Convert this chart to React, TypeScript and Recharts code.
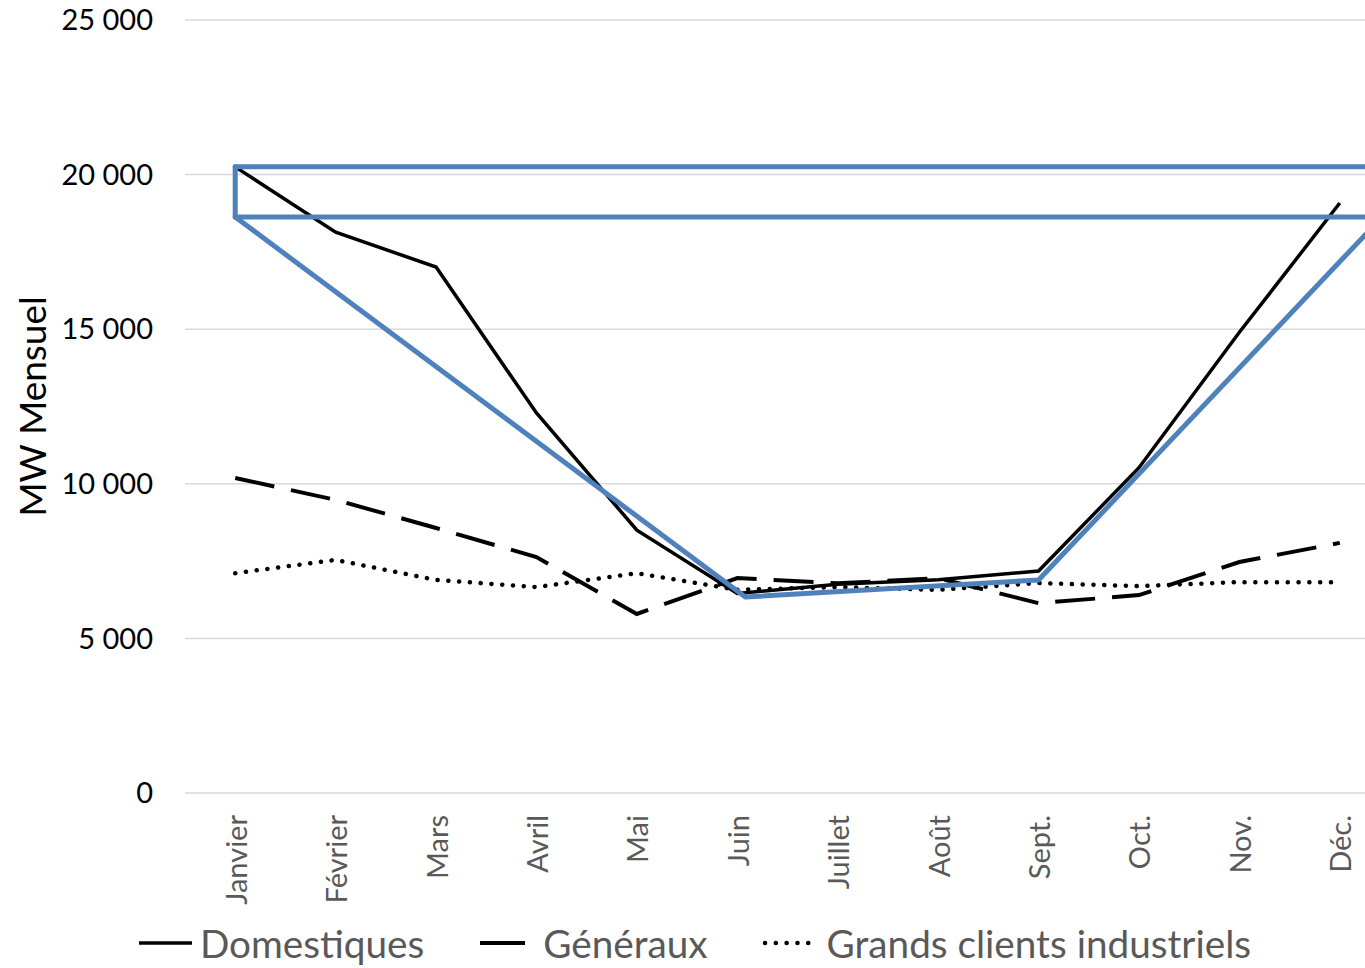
import { CartesianGrid, Legend, Line, LineChart, ReferenceLine, XAxis, YAxis } from 'recharts';

const months = ['Janvier', 'Février', 'Mars', 'Avril', 'Mai', 'Juin', 'Juillet', 'Août', 'Sept.', 'Oct.', 'Nov.', 'Déc.'];
const domestiques = [20250, 18140, 17010, 12290, 8500, 6450, 6750, 6900, 7180, 10520, 14900, 19080];
const generaux = [10190, 9480, 8570, 7630, 5790, 6950, 6780, 6950, 6140, 6400, 7470, 8090];
const grandsClients = [7110, 7540, 6890, 6660, 7110, 6570, 6660, 6570, 6790, 6690, 6820, 6820];

// blue overlay drawn on top of the chart (frame + V-shaped trend)
const trendX = [0, 5.08, 8, 11.5];
const trendValues = [18630, 6340, 6890, 18900];
const frameTop = 20250;
const frameBottom = 18630;

const yTicks = [0, 5000, 10000, 15000, 20000, 25000];

const data = months.map((m, i) => ({
  x: i,
  month: m,
  dom: domestiques[i],
  gen: generaux[i],
  gci: grandsClients[i],
}));
const trend = trendX.map((x, i) => ({ x, v: trendValues[i] }));

const BLUE = '#4f81bd';
const FONT = 'Lato, "Open Sans", sans-serif';

const fmt = (v: number) => String(v).replace(/\B(?=(\d{3})+(?!\d))/g, ' ');

const MonthTick = ({ x, y, payload }: any) => (
  <g transform={`translate(${x},${y + 22}) rotate(-90)`}>
    <text x={0} y={0} textAnchor='end' dominantBaseline='central' fill='#595959' fontSize={29} fontFamily={FONT}>
      {months[payload.value]}
    </text>
  </g>
);

// icon box width, line start/end inside it, gap before the item
const legendItems = [
  { name: 'Domestiques', dash: undefined as string | undefined, cap: 'butt', w: 3.5, box: 61, x1: 0, x2: 53, gap: 0 },
  { name: 'Généraux', dash: undefined, cap: 'butt', w: 4, box: 71, x1: 8, x2: 53, gap: 48 },
  { name: 'Grands clients industriels', dash: '0.1 10.7', cap: 'round', w: 4.5, box: 67, x1: 5, x2: 55, gap: 52 },
];

const renderLegend = () => (
  <div style={{ display: 'flex', justifyContent: 'center', alignItems: 'center', fontFamily: FONT, fontSize: 38.7, color: '#595959', height: 50, whiteSpace: 'nowrap' }}>
    {legendItems.map((it) => (
      <div key={it.name} style={{ display: 'flex', alignItems: 'center', marginLeft: it.gap }}>
        <svg width={it.box} height={20}>
          <line x1={it.x1} x2={it.x2} y1={10} y2={10} stroke='#000' strokeWidth={it.w} strokeDasharray={it.dash} strokeLinecap={it.cap as any} />
        </svg>
        <span>{it.name}</span>
      </div>
    ))}
  </div>
);

export default function App() {
  return (
    <div style={{ position: 'absolute', left: 0, top: 0, width: 1365, height: 968, overflow: 'hidden', background: '#fff' }}>
      <LineChart width={1390} height={968} data={data} margin={{ top: 20, right: 0, bottom: 0, left: 0 }} style={{ fontFamily: FONT }}>
        <CartesianGrid horizontal vertical={false} stroke='#d9d9d9' strokeWidth={1.5} />
        <XAxis
          type='number'
          dataKey='x'
          domain={[-0.5, 11.5]}
          ticks={months.map((_, i) => i)}
          interval={0}
          allowDataOverflow
          axisLine={false}
          tickLine={false}
          tickSize={0}
          tickMargin={0}
          height={125}
          tick={<MonthTick />}
        />
        <YAxis
          domain={[0, 25000]}
          ticks={yTicks}
          width={185}
          axisLine={false}
          tickLine={false}
          tickSize={0}
          tickMargin={32}
          tickFormatter={fmt}
          tick={{ fill: '#000', fontSize: 29, fontFamily: FONT }}
          label={{ value: 'MW Mensuel', angle: -90, position: 'insideLeft', offset: 33, fill: '#000', fontSize: 37, fontFamily: FONT, style: { textAnchor: 'middle' } }}
        />
        <Legend verticalAlign='bottom' height={50} content={renderLegend} />
        <Line dataKey='dom' name='Domestiques' stroke='#000' strokeWidth={3.5} dot={false} isAnimationActive={false} />
        <Line dataKey='gen' name='Généraux' stroke='#000' strokeWidth={4} strokeDasharray='40 17' dot={false} isAnimationActive={false} />
        <Line dataKey='gci' name='Grands clients industriels' stroke='#000' strokeWidth={4.5} strokeDasharray='0.1 10.7' strokeLinecap='round' dot={false} isAnimationActive={false} />
        <ReferenceLine segment={[{ x: 0, y: frameTop }, { x: 11.5, y: frameTop }]} stroke={BLUE} strokeWidth={5} strokeLinecap='round' />
        <ReferenceLine segment={[{ x: 0, y: frameBottom }, { x: 11.5, y: frameBottom }]} stroke={BLUE} strokeWidth={5} strokeLinecap='round' />
        <ReferenceLine segment={[{ x: 0, y: frameBottom }, { x: 0, y: frameTop }]} stroke={BLUE} strokeWidth={5} strokeLinecap='round' />
        <Line data={trend} dataKey='v' name='Tendance' stroke={BLUE} strokeWidth={5} strokeLinejoin='round' dot={false} isAnimationActive={false} legendType='none' />
      </LineChart>
    </div>
  );
}
